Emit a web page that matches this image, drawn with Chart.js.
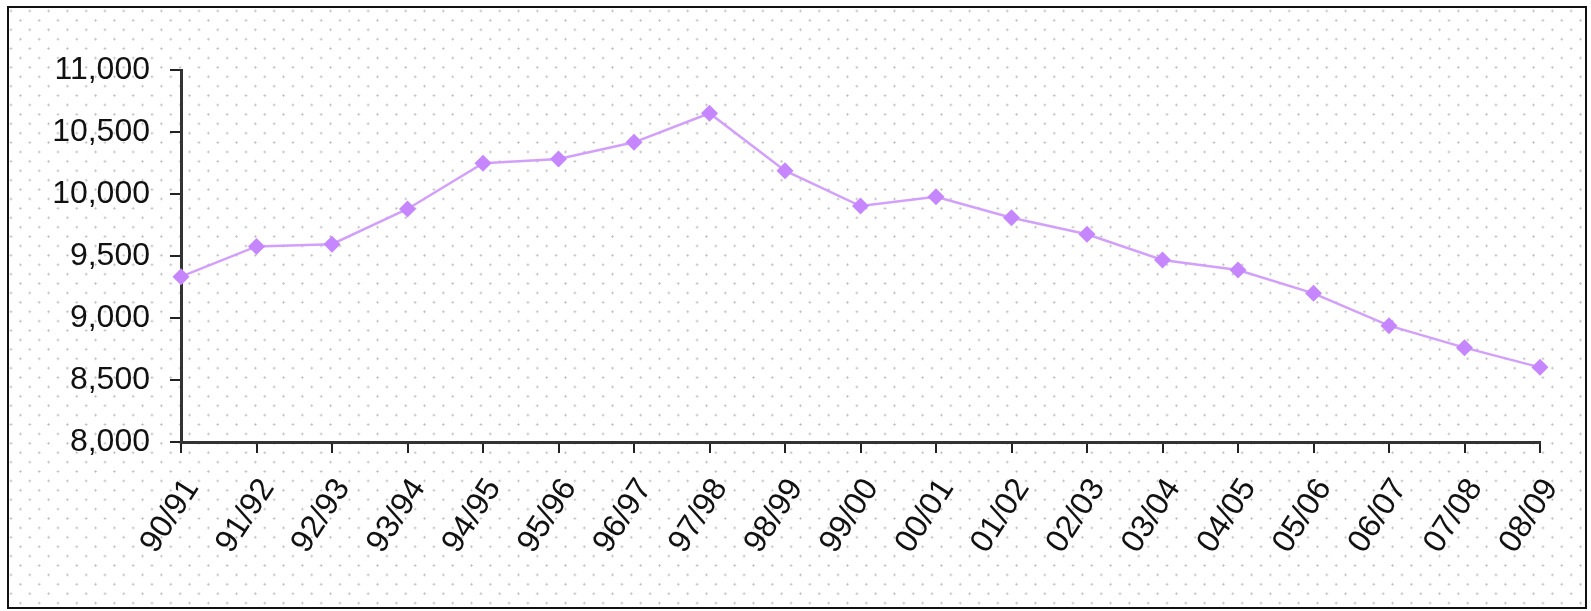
<!DOCTYPE html>
<html>
<head>
<meta charset="utf-8">
<script src="https://cdn.jsdelivr.net/npm/chart.js@4.4.0/dist/chart.umd.min.js"></script>
<style>
  html, body { margin: 0; padding: 0; background: #fff; }
  #wrap {
    position: absolute; left: 7px; top: 6px; width: 1580px; height: 603px;
    box-sizing: border-box; border: 2px solid #111;
    background-color: #fff;
    background-image:
      radial-gradient(circle, #b8b8b8 0.8px, rgba(255,255,255,0) 1.4px),
      radial-gradient(circle, #b8b8b8 0.8px, rgba(255,255,255,0) 1.4px);
    background-size: 18.8px 18.8px, 18.8px 18.8px;
    background-position: 2px 3px, 11.4px 12.4px;
  }
  #c { display: block; }
</style>
</head>
<body>
<div id="wrap"><canvas id="c" width="1576" height="599"></canvas></div>
<script>
const categories = ["90/91","91/92","92/93","93/94","94/95","95/96","96/97","97/98","98/99","99/00","00/01","01/02","02/03","03/04","04/05","05/06","06/07","07/08","08/09"];
const values = [9333, 9577, 9595, 9879, 10248, 10282, 10417, 10651, 10188, 9903, 9978, 9809, 9675, 9468, 9387, 9199, 8938, 8761, 8602];
const yMin = 8000, yMax = 11000, yStep = 500;

const font = { family: "'Liberation Sans', Arial, sans-serif", size: 32 };

new Chart(document.getElementById('c'), {
  type: 'line',
  data: {
    labels: categories,
    datasets: [{
      data: values,
      borderColor: '#d2a0fc',
      borderWidth: 2.5,
      backgroundColor: '#c586ff',
      pointStyle: 'rectRot',
      pointRadius: 8.5,
      pointHoverRadius: 8.5,
      pointBackgroundColor: '#c586ff',
      pointBorderColor: '#c586ff',
      pointBorderWidth: 0,
      tension: 0,
      fill: false
    }]
  },
  options: {
    responsive: false,
    animation: false,
    events: [],
    layout: { padding: { top: 62, right: 45, left: 0, bottom: 0 } },
    plugins: { legend: { display: false }, tooltip: { enabled: false } },
    scales: {
      x: {
        type: 'category',
        offset: false,
        grid: { display: true, drawOnChartArea: false, drawTicks: true, tickLength: 11, color: '#222', lineWidth: 2 },
        border: { display: true, color: '#333', width: 3 },
        ticks: { color: '#111', font: font, minRotation: 57, maxRotation: 57, padding: 19, labelOffset: 11, autoSkip: false },
        afterFit: s => { s.height = 165; s.paddingLeft = 0; s.paddingRight = 0; }
      },
      y: {
        min: yMin, max: yMax,
        grid: { display: true, drawOnChartArea: false, drawTicks: true, tickLength: 11, color: '#222', lineWidth: 2 },
        border: { display: true, color: '#333', width: 3 },
        ticks: {
          stepSize: yStep, color: '#111', font: font, padding: 20,
          callback: v => v.toLocaleString('en-US')
        },
        afterFit: s => { s.width = 172; }
      }
    }
  }
});
</script>
</body>
</html>
